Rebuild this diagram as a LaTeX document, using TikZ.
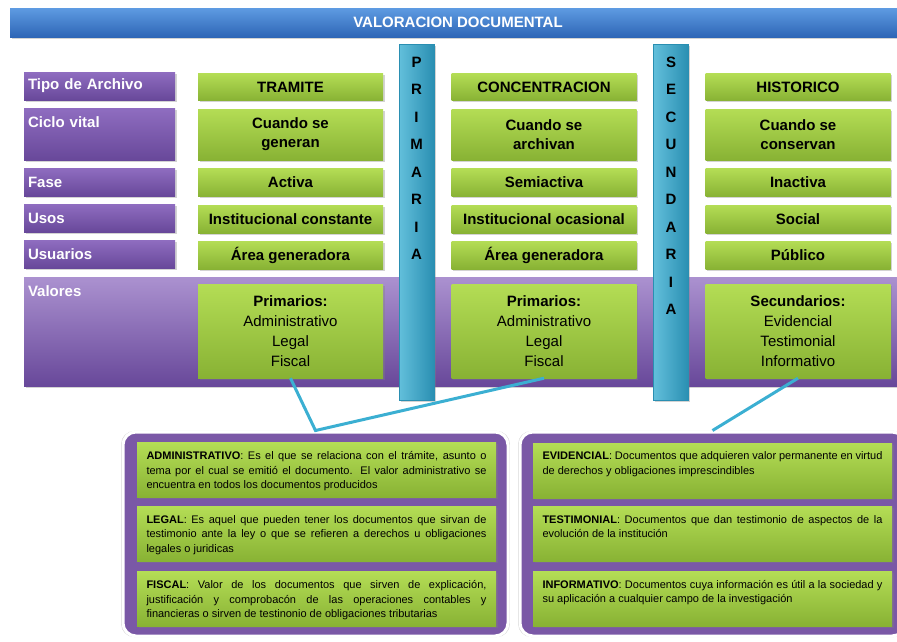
\documentclass[tikz,border=0pt]{standalone}
\usepackage{fontspec}
\setmainfont{Liberation Sans}
\usetikzlibrary{shadows}

\definecolor{azultop}{HTML}{5E9BE2}
\definecolor{azulbot}{HTML}{2E66B6}
\definecolor{moradotop}{HTML}{8F6DC0}
\definecolor{moradobot}{HTML}{68489A}
\definecolor{moradopanel}{HTML}{7A58A6}
\definecolor{verdetop}{HTML}{B4DD55}
\definecolor{verdebot}{HTML}{88B234}
\definecolor{celeste}{HTML}{3BAFD2}
\definecolor{celesteosc}{HTML}{2A8FB2}

\newcommand{\notatexto}[2]{\parbox[c][43pt][t]{340pt}{\vspace*{3pt}\textbf{#1}: #2}}

\tikzset{
  sombra/.style={drop shadow={opacity=0.35, shadow xshift=1.5pt, shadow yshift=-1.5pt}},
  titulo/.style={top color=azultop, bottom color=azulbot, sombra, text=white,
    font=\bfseries\fontsize{15}{18}\selectfont, minimum width=890pt, minimum height=29pt, inner sep=0pt},
  rotulo/.style={top color=moradotop, bottom color=moradobot, sombra, text=white,
    font=\bfseries\fontsize{15}{18}\selectfont, minimum width=151pt, text width=143pt,
    align=left, inner xsep=4pt, inner ysep=2pt},
  franja/.style={top color=moradotop!75!white, bottom color=moradobot, sombra, text=white,
    font=\bfseries\fontsize{15}{18}\selectfont, minimum width=873pt, minimum height=109pt,
    text width=865pt, align=left, inner xsep=4pt, inner ysep=2pt},
  celda/.style={top color=verdetop, bottom color=verdebot, sombra, text=black,
    font=\bfseries\fontsize{15}{19}\selectfont, minimum width=185pt, align=center, inner sep=2pt},
  valor/.style={celda, font=\fontsize{15}{20}\selectfont, minimum height=94pt},
  barra/.style={left color=celeste!80!white, right color=celesteosc, draw=celesteosc,
    sombra, minimum width=35pt, minimum height=356pt, inner sep=0pt},
  letras/.style={font=\bfseries\fontsize{15}{27.5}\selectfont, align=center, inner sep=0pt, anchor=north},
  panel/.style={fill=moradopanel, draw=white, line width=3pt, rounded corners=13pt,
    drop shadow={opacity=0.3, shadow xshift=0pt, shadow yshift=0pt, shadow scale=1.01},
    minimum height=204pt, inner sep=0pt},
  nota/.style={top color=verdetop, bottom color=verdebot, sombra, text=black,
    font=\fontsize{11}{14.5}\selectfont, minimum width=359pt, inner xsep=9.5pt, inner ysep=6pt},
  enlace/.style={draw=celeste, line width=3pt}
}

\begin{document}
\begin{tikzpicture}[x=1pt,y=-1pt]
\useasboundingbox (0,0) rectangle (897,641);

\node[titulo] (titulo) at (455,22.5) {\hspace*{6pt}VALORACION DOCUMENTAL};

\node[rotulo, minimum height=28pt] (tipo) at (99.5,86) {Tipo de Archivo};
\node[rotulo, minimum height=52pt, text depth=24pt] (ciclo) at (99.5,134) {Ciclo vital};
\node[rotulo, minimum height=28pt] (fase) at (99.5,182) {Fase};
\node[rotulo, minimum height=28pt] (usos) at (99.5,218) {Usos};
\node[rotulo, minimum height=28pt] (usuarios) at (99.5,254) {Usuarios};

\node[franja, text depth=80pt] (valores) at (460.5,331.5) {Valores};

\node[celda, minimum height=27pt] (a1) at (290.5,87) {TRAMITE};
\node[celda, minimum height=51pt] (a2) at (290.5,134.5) {Cuando se\\generan};
\node[celda, minimum height=28pt] (a3) at (290.5,182.5) {Activa};
\node[celda, minimum height=28pt] (a4) at (290.5,219) {Institucional constante};
\node[celda, minimum height=28pt] (a5) at (290.5,255) {Área generadora};
\node[valor] (va) at (290.5,331) {\textbf{Primarios:}\\Administrativo\\Legal\\Fiscal};

\node[celda, minimum height=27pt] (b1) at (544,87) {CONCENTRACION};
\node[celda, minimum height=51pt] (b2) at (544,134.5) {Cuando se\\archivan};
\node[celda, minimum height=28pt] (b3) at (544,182.5) {Semiactiva};
\node[celda, minimum height=28pt] (b4) at (544,219) {Institucional ocasional};
\node[celda, minimum height=28pt] (b5) at (544,255) {Área generadora};
\node[valor] (vb) at (544,331) {\textbf{Primarios:}\\Administrativo\\Legal\\Fiscal};

\node[celda, minimum height=27pt] (c1) at (798,87) {HISTORICO};
\node[celda, minimum height=51pt] (c2) at (798,134.5) {Cuando se\\conservan};
\node[celda, minimum height=28pt] (c3) at (798,182.5) {Inactiva};
\node[celda, minimum height=28pt] (c4) at (798,219) {Social};
\node[celda, minimum height=28pt] (c5) at (798,255) {Público};
\node[valor] (vc) at (798,331) {\textbf{Secundarios:}\\Evidencial\\Testimonial\\Informativo};

\node[barra] (primaria) at (416.5,222) {};
\node[letras] (primtxt) at (416.5,56.6) {P\\R\\I\\M\\A\\R\\I\\A};

\node[barra] (secundaria) at (671,222) {};
\node[letras] (sectxt) at (671,56.6) {S\\E\\C\\U\\N\\D\\A\\R\\I\\A};

\node[panel, minimum width=385pt] (izq) at (315.5,534) {};
\node[panel, minimum width=385pt] (der) at (712.5,534) {};

\node[nota] (admin) at (316.5,470) {\notatexto{ADMINISTRATIVO}{Es el que se relaciona con el trámite, asunto o\linebreak tema por el cual se emitió el documento. El valor administrativo se\linebreak encuentra en todos los documentos producidos}};
\node[nota] (legal) at (316.5,534) {\notatexto{LEGAL}{Es aquel que pueden tener los documentos que sirvan de\linebreak testimonio ante la ley o que se refieren a derechos u obligaciones\linebreak legales o juridicas}};
\node[nota] (fiscal) at (316.5,599) {\notatexto{FISCAL}{Valor de los documentos que sirven de explicación,\linebreak justificación y comprobacón de las operaciones contables y\linebreak financieras o sirven de testinonio de obligaciones tributarias}};

\node[nota] (evid) at (712.5,470.5) {\notatexto{EVIDENCIAL}{Documentos que adquieren valor permanente en virtud\linebreak de derechos y obligaciones imprescindibles}};
\node[nota] (testi) at (712.5,534) {\notatexto{TESTIMONIAL}{Documentos que dan testimonio de aspectos de la\linebreak evolución de la institución}};
\node[nota] (info) at (712.5,598.5) {\notatexto{INFORMATIVO}{Documentos cuya información es útil a la sociedad y\linebreak su aplicación a cualquier campo de la investigación}};

\draw[enlace] (va.south) -- (izq.north) -- (vb.south);
\draw[enlace] (vc.south) -- (der.north);
\end{tikzpicture}
\end{document}
